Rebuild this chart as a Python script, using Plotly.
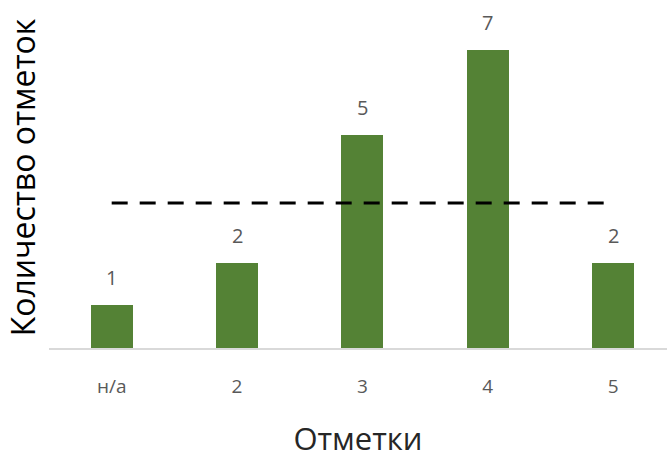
import plotly.graph_objects as go

categories = ["н/а", "2", "3", "4", "5"]
counts = [1, 2, 5, 7, 2]
average = sum(counts) / len(counts)

x_idx = list(range(len(categories)))

fig = go.Figure()
fig.add_trace(go.Bar(
    x=x_idx, y=counts, width=0.335,
    marker=dict(color="#548235", line=dict(width=0)),
    hoverinfo="skip",
))
fig.add_trace(go.Scatter(
    x=[x_idx[0], x_idx[-1]], y=[average, average], mode="lines",
    line=dict(color="black", width=3, dash="16px,12px"),
    hoverinfo="skip",
))
for xi, v in zip(x_idx, counts):
    fig.add_annotation(x=xi, y=v, text=str(v), showarrow=False,
                       yanchor="bottom", yshift=12,
                       font=dict(size=20, color="#595959"))

fig.update_layout(
    width=667, height=459,
    margin=dict(l=49, r=0, t=7, b=111),
    paper_bgcolor="white", plot_bgcolor="white",
    showlegend=False,
    font=dict(family="Open Sans, sans-serif"),
    bargap=0,
)
fig.update_xaxes(
    range=[-0.5, 4.43],
    tickmode="array", tickvals=x_idx, ticktext=categories,
    tickfont=dict(size=19, color="#595959"),
    showline=True, linecolor="#d9d9d9", linewidth=2,
    showgrid=False, zeroline=False,
    ticks="outside", ticklen=20, tickcolor="rgba(0,0,0,0)",
    automargin=False,
    title=dict(text="Отметки", font=dict(size=31, color="#262626"), standoff=32),
)
fig.update_yaxes(
    range=[0, 8],
    showticklabels=False, showgrid=False, zeroline=False, showline=False,
    automargin=False,
    title=dict(text="Количество отметок", font=dict(size=32, color="black"), standoff=2),
)

fig.write_html("out.html")
